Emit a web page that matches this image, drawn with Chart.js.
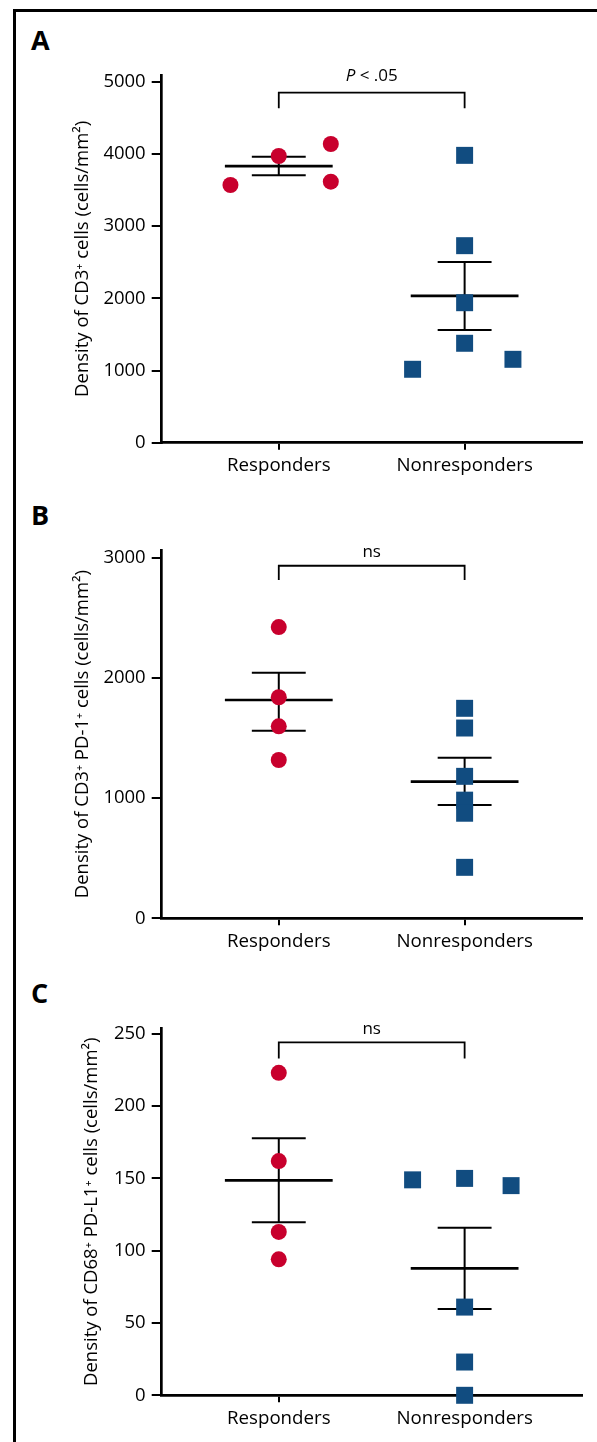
<!DOCTYPE html>
<html>
<head>
<meta charset="utf-8">
<title>CD3 / PD-1 / PD-L1 densities</title>
<script src="https://cdn.jsdelivr.net/npm/chart.js@4.4.1/dist/chart.umd.min.js"></script>
<style>
  html, body { margin: 0; padding: 0; background: #fff; }
  #page { position: relative; width: 597px; height: 1442px; overflow: hidden; }
  #frame { position: absolute; left: 13px; top: 9px; width: 620px; height: 1460px;
           border-left: 3px solid #000; border-top: 3px solid #000; }
  .letter { position: absolute; left: 31px; margin: 0; color: #000;
            font: 700 27px/1 'Open Sans', sans-serif; }
  canvas { position: absolute; left: 0; }
</style>
</head>
<body>
<div id="page">
  <div id="frame"></div>
  <div class="letter" style="top:26px">A</div>
  <div class="letter" style="top:501px">B</div>
  <div class="letter" style="top:979px">C</div>
  <canvas id="chartA" width="597" height="490" style="top:0"></canvas>
  <canvas id="chartB" width="597" height="470" style="top:490px"></canvas>
  <canvas id="chartC" width="597" height="482" style="top:960px"></canvas>
</div>
<script>
// Groupes (axe x)
const groups = ['Responders', 'Nonresponders'];

// A - CD3+
const respA = [3569, 3971, 4137, 3615];
const respAx = [0.74, 1, 1.28, 1.28];
const nonA = [3980, 2729, 1939, 1377, 1017, 1155];
const nonAx = [2, 2, 2, 2, 1.72, 2.26];
const meanA = [3832, 2034];
const hiA = [3961, 2503];
const loA = [3703, 1561];
const ticksA = [0, 1000, 2000, 3000, 4000, 5000];
const bracketA = [4632, 4848];

// B - CD3+ PD-1+
const respB = [2423, 1839, 1597, 1317];
const respBx = [1, 1, 1, 1];
const nonB = [1747, 1583, 1181, 983, 874, 424];
const nonBx = [2, 2, 2, 2, 2, 2];
const meanB = [1816, 1137];
const hiB = [2043, 1336];
const loB = [1561, 943];
const ticksB = [0, 1000, 2000, 3000];
const bracketB = [2815, 2933];

// C - CD68+ PD-L1+
const respC = [223, 162, 113, 94];
const respCx = [1, 1, 1, 1];
const nonC = [149, 150, 145, 61, 23, 0];
const nonCx = [1.72, 2, 2.25, 2, 2, 2];
const meanC = [148.7, 87.8];
const hiC = [177.7, 115.9];
const loC = [119.6, 59.7];
const ticksC = [0, 50, 100, 150, 200, 250];
const bracketC = [233, 244];

const RED = '#c8002d';
const BLUE = '#114c80';
const FONT = "'Open Sans', sans-serif";

// Texte au-dessus du crochet de significativité
const bracketText = {
  id: 'bracketText',
  afterDatasetsDraw(chart, args, opts) {
    const { ctx, scales: { x, y } } = chart;
    const cx = (x.getPixelForValue(1) + x.getPixelForValue(2)) / 2;
    const by = y.getPixelForValue(opts.level) - opts.gap;
    ctx.save();
    ctx.fillStyle = '#000';
    ctx.textBaseline = 'alphabetic';
    ctx.textAlign = 'left';
    const parts = opts.parts;
    let total = 0;
    parts.forEach(p => {
      ctx.font = (p.italic ? 'italic ' : '') + '17px ' + FONT;
      p.w = ctx.measureText(p.t).width;
      total += p.w;
    });
    let px = cx - total / 2;
    parts.forEach(p => {
      ctx.font = (p.italic ? 'italic ' : '') + '17px ' + FONT;
      ctx.fillText(p.t, px, by);
      px += p.w;
    });
    ctx.restore();
  }
};

function seg(x0, y0, x1, y1, w) {
  return {
    data: [{ x: x0, y: y0 }, { x: x1, y: y1 }],
    showLine: true, borderColor: '#000', borderWidth: w,
    pointRadius: 0, order: 2, clip: false, borderCapStyle: 'butt'
  };
}

function buildChart(id, c) {
  const canvas = document.getElementById(id);
  const H = canvas.height;
  const datasets = [
    {
      data: c.resp.map((v, i) => ({ x: c.respX[i], y: v })),
      pointStyle: 'circle', pointRadius: 8, backgroundColor: RED,
      borderWidth: 0, order: 0, clip: false
    },
    {
      data: c.non.map((v, i) => ({ x: c.nonX[i], y: v })),
      pointStyle: 'rect', pointRadius: 12, backgroundColor: BLUE,
      borderWidth: 0, order: 0, clip: false
    }
  ];
  groups.forEach((g, i) => {
    const gx = i + 1;
    datasets.push(seg(gx - 0.29, c.mean[i], gx + 0.29, c.mean[i], 2.7));
    datasets.push(seg(gx, c.lo[i], gx, c.hi[i], 2));
    datasets.push(seg(gx - 0.145, c.hi[i], gx + 0.145, c.hi[i], 2));
    datasets.push(seg(gx - 0.145, c.lo[i], gx + 0.145, c.lo[i], 2));
  });
  const br = seg(1, c.bracket[0], 1, c.bracket[1], 1.8);
  br.data = [
    { x: 1, y: c.bracket[0] }, { x: 1, y: c.bracket[1] },
    { x: 2, y: c.bracket[1] }, { x: 2, y: c.bracket[0] }
  ];
  br.borderJoinStyle = 'miter';
  datasets.push(br);

  return new Chart(canvas.getContext('2d'), {
    type: 'scatter',
    data: { datasets },
    plugins: [bracketText],
    options: {
      responsive: false,
      animation: false,
      devicePixelRatio: 1,
      layout: { padding: { top: c.top, right: 597 - 581.7, left: 0, bottom: 0 } },
      plugins: {
        legend: { display: false },
        tooltip: { enabled: false },
        bracketText: { level: c.bracket[1], gap: c.gap, parts: c.label }
      },
      scales: {
        x: {
          type: 'linear', min: 0.37, max: 2.63,
          afterBuildTicks: s => { s.ticks = groups.map((g, i) => ({ value: i + 1 })); },
          afterFit: s => { s.height = H - c.bottom; },
          grid: { drawOnChartArea: false, drawTicks: true, tickLength: 7,
                  lineWidth: 2, color: '#000', tickColor: '#000' },
          border: { display: true, color: '#000', width: 2.7 },
          ticks: { color: '#000', padding: 5, font: { family: FONT, size: 18.7 },
                   callback: v => groups[v - 1] || '' }
        },
        y: {
          type: 'linear', min: 0, max: c.yMax,
          afterBuildTicks: s => { s.ticks = c.ticks.map(v => ({ value: v })); },
          afterFit: s => { s.width = 161.7; },
          grid: { drawOnChartArea: false, drawTicks: true, tickLength: 10,
                  lineWidth: 2, color: '#000', tickColor: '#000' },
          border: { display: true, color: '#000', width: 2.7 },
          ticks: { color: '#000', padding: 6, font: { family: FONT, size: 18.5 },
                   callback: v => String(v) },
          title: { display: true, text: c.title, color: '#000',
                   font: { family: FONT, size: 18.5 },
                   padding: { top: c.titlePad, bottom: 0 } }
        }
      }
    }
  });
}

buildChart('chartA', {
  resp: respA, respX: respAx, non: nonA, nonX: nonAx,
  mean: meanA, hi: hiA, lo: loA, ticks: ticksA, bracket: bracketA,
  yMax: 5093, top: 75, bottom: 442.7, titlePad: 72, gap: 12,
  title: 'Density of CD3\u207A cells (cells/mm\u00B2)',
  label: [{ t: 'P', italic: true }, { t: ' < .05' }]
});

buildChart('chartB', {
  resp: respB, respX: respBx, non: nonB, nonX: nonBx,
  mean: meanB, hi: hiB, lo: loB, ticks: ticksB, bracket: bracketB,
  yMax: 3064, top: 60, bottom: 428.3, titlePad: 72, gap: 9,
  title: 'Density of CD3\u207A PD-1\u207A cells (cells/mm\u00B2)',
  label: [{ t: 'ns' }]
});

buildChart('chartC', {
  resp: respC, respX: respCx, non: nonC, nonX: nonCx,
  mean: meanC, hi: hiC, lo: loC, ticks: ticksC, bracket: bracketC,
  yMax: 253.8, top: 68.3, bottom: 435.3, titlePad: 81, gap: 8,
  title: 'Density of CD68\u207A PD-L1\u207A cells (cells/mm\u00B2)',
  label: [{ t: 'ns' }]
});
</script>
</body>
</html>
